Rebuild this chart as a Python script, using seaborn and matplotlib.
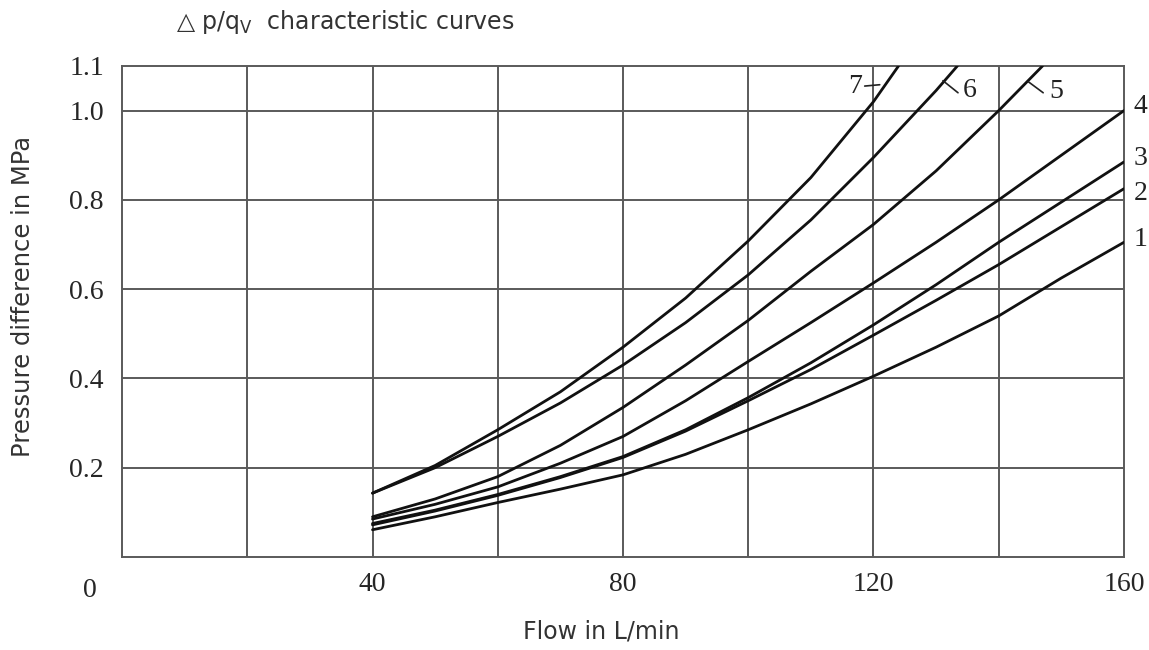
import numpy as np
import pandas as pd
import matplotlib
matplotlib.use("Agg")
import matplotlib.pyplot as plt
import seaborn as sns

# ---- data ----
flow_7 = [40, 50, 60, 70, 80, 90, 100, 110, 120, 124]
dp_7 = [0.143, 0.205, 0.285, 0.37, 0.47, 0.58, 0.708, 0.85, 1.02, 1.10]

flow_6 = [40, 50, 60, 70, 80, 90, 100, 110, 120, 130, 133.4]
dp_6 = [0.143, 0.200, 0.270, 0.345, 0.43, 0.525, 0.632, 0.755, 0.895, 1.045, 1.10]

flow_5 = [40, 50, 60, 70, 80, 90, 100, 110, 120, 130, 140, 147]
dp_5 = [0.090, 0.130, 0.180, 0.250, 0.335, 0.43, 0.53, 0.64, 0.745, 0.865, 1.00, 1.10]

flow_std = [40, 50, 60, 70, 80, 90, 100, 110, 120, 130, 140, 150, 160]
dp_4 = [0.085, 0.118, 0.157, 0.210, 0.270, 0.350, 0.438, 0.525, 0.614, 0.705, 0.80, 0.90, 1.00]
dp_3 = [0.075, 0.105, 0.140, 0.180, 0.225, 0.285, 0.357, 0.435, 0.520, 0.610, 0.705, 0.795, 0.885]
dp_2 = [0.072, 0.103, 0.138, 0.178, 0.223, 0.282, 0.350, 0.420, 0.497, 0.575, 0.655, 0.740, 0.825]
dp_1 = [0.061, 0.090, 0.122, 0.152, 0.184, 0.230, 0.285, 0.343, 0.405, 0.470, 0.540, 0.625, 0.705]

curve_names = ["1", "2", "3", "4", "5", "6", "7"]
x_ticks = [40, 80, 120, 160]
x_tick_labels = ["40", "80", "120", "160"]
y_ticks = [0.2, 0.4, 0.6, 0.8, 1.0, 1.1]
y_tick_labels = ["0.2", "0.4", "0.6", "0.8", "1.0", "1.1"]

title_text = "\u25b3 p/q$_{\\mathrm{V}}$  characteristic curves"
x_label = "Flow in L/min"
y_label = "Pressure difference in MPa"

# ---- build long table ----
series = {
    "1": (flow_std, dp_1), "2": (flow_std, dp_2), "3": (flow_std, dp_3),
    "4": (flow_std, dp_4), "5": (flow_5, dp_5), "6": (flow_6, dp_6),
    "7": (flow_7, dp_7),
}
rows = []
for name in curve_names:
    fx, fy = series[name]
    for a, b in zip(fx, fy):
        rows.append({"curve": name, "flow": a, "dp": b})
df = pd.DataFrame(rows)

sns.set_theme(style="white")
plt.rcParams["font.family"] = ["DejaVu Sans"]
plt.rcParams["mathtext.fontset"] = "dejavusans"

fig = plt.figure(figsize=(11.49, 6.5), dpi=100)
ax = fig.add_axes([0.1062, 0.1431, 0.872, 0.7554])

grid_c = "#5a5a5a"
ax.set_xlim(0, 160)
ax.set_ylim(0, 1.1)
for gx in [20, 40, 60, 80, 100, 120, 140]:
    ax.axvline(gx, color=grid_c, lw=1.4, zorder=1)
for gy in [0.2, 0.4, 0.6, 0.8, 1.0]:
    ax.axhline(gy, color=grid_c, lw=1.4, zorder=1)

sns.lineplot(data=df, x="flow", y="dp", hue="curve", units="curve",
             estimator=None, palette=["#111111"] * 7, legend=False,
             linewidth=2.0, ax=ax, zorder=3, sort=False)

for s in ax.spines.values():
    s.set_color(grid_c)
    s.set_linewidth(1.4)

serif = ["Liberation Serif", "DejaVu Serif"]
fs_num = 20
ax.set_xticks(x_ticks)
ax.set_xticklabels(x_tick_labels, fontfamily=serif, fontsize=fs_num)
ax.set_yticks(y_ticks)
ax.set_yticklabels(y_tick_labels, fontfamily=serif, fontsize=fs_num)
ax.tick_params(axis="both", length=0, pad=11)
ax.tick_params(axis="y", pad=13)
ax.text(-0.032, -0.043, "0", transform=ax.transAxes, ha="center", va="top",
        fontfamily=serif, fontsize=fs_num)

ax.set_xlabel(x_label, fontsize=17, color="#333333")
ax.set_ylabel(y_label, fontsize=17.5, color="#333333")
ax.xaxis.set_label_coords(0.478, -0.128)
ax.yaxis.set_label_coords(-0.087, 0.53)
fig.text(0.153, 0.966, title_text, fontsize=17, color="#333333",
         ha="left", va="center")

# curve labels
lab_kw = dict(fontfamily=serif, fontsize=fs_num, color="#222222", va="center")
ax.text(162.7, 1.009, "4", ha="center", clip_on=False, **lab_kw)
ax.text(162.7, 0.892, "3", ha="center", clip_on=False, **lab_kw)
ax.text(162.7, 0.815, "2", ha="center", clip_on=False, **lab_kw)
ax.text(162.7, 0.712, "1", ha="center", clip_on=False, **lab_kw)

ax.text(117.0, 1.054, "7", ha="center", **lab_kw)
ax.plot([118.6, 121.0], [1.055, 1.058], color="#222222", lw=1.2, zorder=4)
ax.text(135.3, 1.045, "6", ha="center", **lab_kw)
ax.plot([131.1, 133.5], [1.067, 1.040], color="#222222", lw=1.2, zorder=4)
ax.text(149.2, 1.042, "5", ha="center", **lab_kw)
ax.plot([144.7, 147.1], [1.065, 1.040], color="#222222", lw=1.2, zorder=4)

fig.savefig("out.png", dpi=100, facecolor="white")
